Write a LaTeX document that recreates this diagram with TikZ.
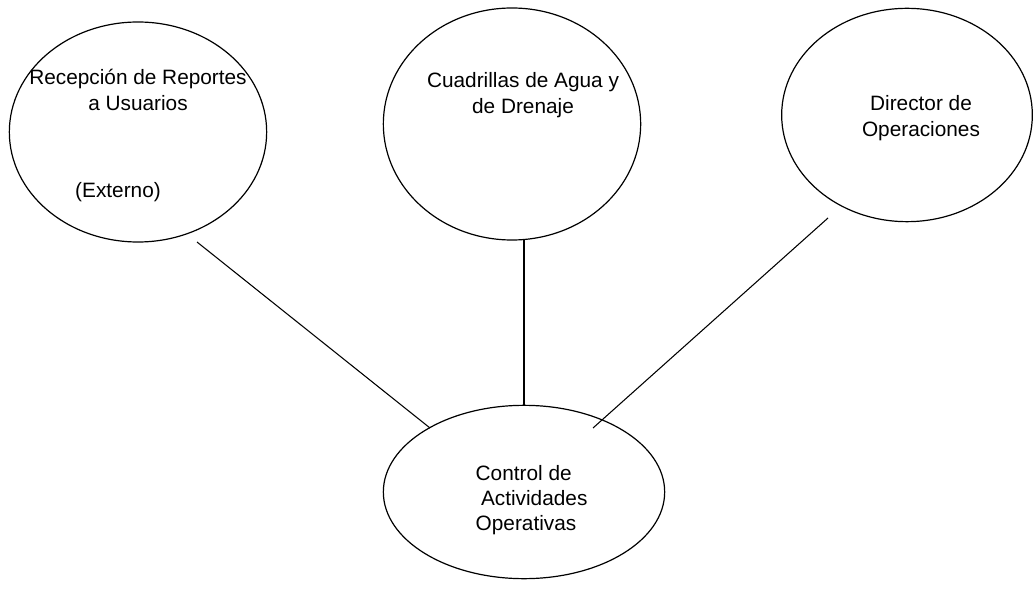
\documentclass[tikz,border=0pt]{standalone}
\usepackage{fontspec}
\setmainfont{Liberation Sans}
\usetikzlibrary{shapes.geometric}

\tikzset{
  entidad/.style={draw, ellipse, line width=0.9pt, inner sep=0pt, outer sep=0pt},
  texto/.style={align=center, font=\fontsize{15.6}{20}\selectfont},
  linea/.style={line width=0.8pt}
}

\begin{document}
\begin{tikzpicture}[x=0.75pt,y=-0.75pt]
 \useasboundingbox (0,0) rectangle (1034,598);

 % los cuatro circulos
 \node[entidad, minimum width=193pt, minimum height=165pt] (rep) at (138,132) {};
 \node[entidad, minimum width=193pt, minimum height=174pt] (cua) at (512,124) {};
 \node[entidad, minimum width=188pt, minimum height=160pt] (dir) at (907,115) {};
 \node[entidad, minimum width=211pt, minimum height=130pt] (ctrl) at (524,492) {};

 \node[texto] (reptxt) at (138,90) {Recepción de Reportes\\a Usuarios};
 \node[texto] (repext) at (118,192) {(Externo)};
 \node[texto] (cuatxt) at (523,95) {Cuadrillas de Agua y\\de Drenaje};
 \node[texto] (dirtxt) at (921,118) {Director de\\Operaciones};
 \node[texto, align=left, anchor=west, font=\fontsize{15.6}{19}\selectfont] (ctrltxt) at (471,500)
   {Control de\\\hspace*{4pt}Actividades\\Operativas};

 % extremos de las lineas
 \coordinate (r1) at (197,242);
 \coordinate (r2) at (430,428);
 \coordinate (c1) at (524,240);
 \coordinate (c2) at (524,405);
 \coordinate (d1) at (828,218);
 \coordinate (d2) at (593,428);

 \draw[linea] (r1) -- (r2);
 \draw[linea] (c1) -- (c2);
 \draw[linea] (d1) -- (d2);
\end{tikzpicture}
\end{document}
